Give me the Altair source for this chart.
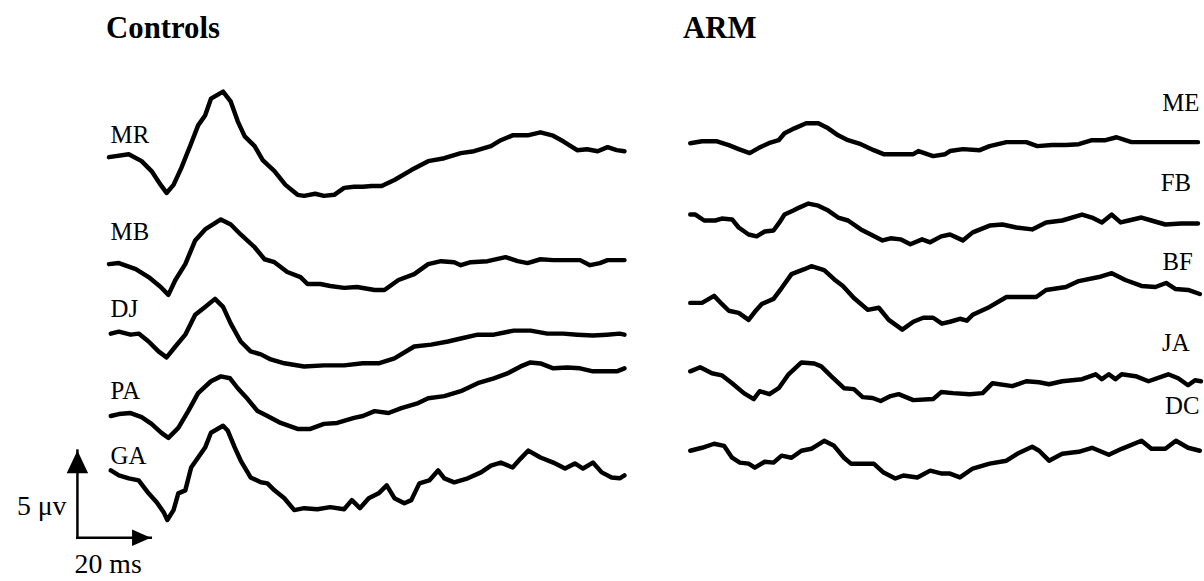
import altair as alt
import pandas as pd

# Evoked responses, (time in ms, amplitude in µV relative to the trace's first sample)

# ---- Controls ----
MR = [(0.0, 0.00), (5.4, 0.17), (8.9, -0.23), (11.6, -0.80), (14.1, -1.59), (15.7, -2.05),
      (17.6, -1.59), (19.7, -0.63), (22.2, 0.68), (24.3, 1.82), (26.2, 2.39), (27.8, 3.35),
      (31.1, 3.75), (33.2, 3.18), (35.1, 2.05), (37.0, 1.19), (39.7, 0.63), (41.9, -0.17),
      (45.1, -0.80), (48.1, -1.59), (51.4, -2.16), (53.2, -2.22), (56.2, -2.10), (58.6, -2.22),
      (61.4, -2.16), (64.1, -1.76), (66.8, -1.70), (69.2, -1.70), (71.6, -1.65), (74.3, -1.65),
      (77.8, -1.31), (82.4, -0.74), (87.0, -0.23), (91.4, -0.06), (95.9, 0.23), (99.5, 0.34),
      (104.1, 0.63), (106.8, 0.97), (110.0, 1.25), (114.1, 1.25), (117.6, 1.42), (120.8, 1.25),
      (123.8, 0.91), (127.6, 0.40), (130.3, 0.45), (133.2, 0.34), (135.9, 0.57), (138.4, 0.40),
      (140.5, 0.34)]

MB = [(0.0, 0.00), (2.7, 0.06), (7.3, -0.28), (10.8, -0.74), (14.1, -1.31), (16.2, -1.76),
      (18.1, -0.91), (20.8, 0.00), (23.5, 1.36), (26.2, 1.99), (30.5, 2.56), (33.2, 2.27),
      (35.9, 1.70), (39.7, 0.97), (42.4, 0.28), (45.1, 0.11), (48.6, -0.45), (52.2, -0.74),
      (54.1, -1.14), (57.6, -1.14), (60.3, -1.25), (64.1, -1.36), (67.6, -1.31), (72.4, -1.48),
      (75.1, -1.48), (78.9, -0.91), (83.2, -0.57), (87.0, 0.00), (90.5, 0.17), (94.1, 0.11),
      (95.9, -0.06), (98.6, 0.11), (103.2, 0.17), (108.1, 0.40), (111.4, 0.17), (114.1, 0.06),
      (117.6, 0.28), (121.1, 0.23), (124.9, 0.23), (128.4, 0.23), (131.1, -0.06), (133.8, 0.06),
      (135.9, 0.23), (140.5, 0.23)]

DJ = [(0.5, 0.00), (2.7, 0.11), (5.9, -0.06), (8.1, 0.00), (10.8, -0.45), (13.5, -1.02),
      (15.7, -1.36), (18.1, -0.74), (20.8, -0.06), (23.5, 1.08), (26.2, 1.53), (28.9, 1.99),
      (31.1, 1.53), (33.2, 0.57), (35.9, -0.45), (38.6, -1.02), (41.4, -1.19), (44.1, -1.48),
      (47.8, -1.70), (53.2, -1.88), (58.6, -1.82), (64.1, -1.82), (69.2, -1.70), (73.5, -1.70),
      (77.8, -1.42), (83.2, -0.74), (87.8, -0.63), (92.4, -0.45), (95.9, -0.28), (100.5, -0.06),
      (104.9, -0.06), (110.3, 0.17), (114.9, 0.17), (119.5, 0.00), (123.8, 0.00), (127.6, -0.06),
      (131.9, -0.11), (135.7, -0.06), (139.2, 0.00), (140.5, -0.06)]

PA = [(0.5, 0.00), (2.7, 0.11), (5.9, 0.17), (8.9, -0.06), (11.6, -0.45), (14.3, -0.97),
      (16.2, -1.25), (18.9, -0.68), (21.6, 0.28), (24.3, 1.31), (27.8, 1.99), (30.5, 2.27),
      (33.0, 2.16), (35.1, 1.59), (37.8, 0.97), (40.5, 0.28), (43.2, 0.00), (46.8, -0.40),
      (51.4, -0.74), (54.9, -0.74), (58.6, -0.45), (62.2, -0.40), (66.8, -0.11), (69.2, 0.00),
      (72.4, 0.28), (76.2, 0.17), (79.7, 0.45), (84.3, 0.74), (87.0, 1.02), (91.4, 1.14),
      (95.9, 1.42), (100.5, 1.88), (104.9, 2.16), (108.6, 2.44), (112.2, 2.84), (114.9, 3.07),
      (117.6, 3.01), (121.1, 2.73), (124.9, 2.78), (128.4, 2.73), (131.9, 2.56), (135.7, 2.56),
      (138.4, 2.56), (140.5, 2.73)]

GA = [(0.5, 0.00), (2.7, -0.28), (5.4, -0.45), (8.1, -0.57), (10.8, -1.31), (13.0, -1.82),
      (14.9, -2.39), (15.9, -2.84), (17.6, -2.27), (18.9, -1.31), (20.8, -1.14), (22.4, 0.17),
      (24.3, 0.74), (26.2, 1.31), (27.8, 2.16), (31.1, 2.56), (32.4, 2.27), (34.3, 1.31),
      (35.9, 0.57), (38.6, -0.40), (41.4, -0.68), (43.2, -0.74), (45.1, -1.14), (47.8, -1.59),
      (50.5, -2.27), (53.2, -2.16), (56.8, -2.22), (60.3, -2.10), (64.1, -2.22), (66.2, -1.70),
      (68.4, -2.16), (70.8, -1.59), (73.5, -1.31), (75.7, -0.85), (77.8, -1.59), (80.5, -1.88),
      (82.4, -1.70), (84.6, -0.74), (87.3, -0.57), (89.7, 0.00), (91.4, -0.45), (94.1, -0.68),
      (97.8, -0.45), (101.4, -0.11), (104.1, 0.28), (106.8, 0.45), (110.0, 0.17), (112.2, 0.68),
      (114.3, 1.14), (117.6, 0.74), (121.1, 0.45), (124.3, 0.11), (127.0, 0.40), (129.2, 0.11),
      (131.9, 0.45), (134.3, -0.11), (137.0, -0.40), (139.2, -0.45), (140.5, -0.28)]

# ---- ARM ----
ME = [(0.0, 0.00), (3.2, 0.11), (7.3, 0.11), (10.5, -0.11), (13.2, -0.34), (16.2, -0.57),
      (18.6, -0.28), (21.4, 0.00), (24.1, 0.17), (25.7, 0.57), (28.4, 0.85), (31.6, 1.14),
      (34.9, 1.14), (37.6, 0.85), (40.3, 0.45), (43.0, 0.17), (46.5, -0.06), (50.0, -0.40),
      (52.7, -0.63), (56.5, -0.63), (60.8, -0.63), (62.2, -0.45), (64.6, -0.63), (66.2, -0.74),
      (69.5, -0.63), (70.8, -0.45), (74.3, -0.34), (78.9, -0.40), (81.6, -0.17), (86.2, 0.06),
      (91.6, 0.06), (94.6, -0.17), (98.6, -0.11), (102.4, -0.11), (105.9, -0.06), (109.5, 0.17),
      (113.2, 0.17), (116.2, 0.34), (118.6, 0.17), (120.3, 0.06), (125.7, 0.06), (131.1, 0.06),
      (138.4, 0.06)]

FB = [(0.0, 0.00), (1.4, 0.00), (3.8, -0.34), (6.8, -0.34), (8.6, -0.23), (11.4, -0.28),
      (13.2, -0.74), (15.9, -1.14), (18.1, -1.25), (20.3, -0.97), (22.7, -0.91), (24.3, -0.45),
      (25.7, 0.00), (28.1, 0.23), (29.7, 0.40), (32.2, 0.63), (34.9, 0.51), (37.6, 0.23),
      (40.3, -0.17), (43.0, -0.34), (46.5, -0.85), (49.2, -1.14), (52.4, -1.48), (54.6, -1.36),
      (57.3, -1.42), (60.0, -1.70), (63.2, -1.42), (65.4, -1.59), (68.4, -1.25), (70.8, -1.14),
      (74.3, -1.48), (77.0, -1.02), (81.6, -0.63), (85.1, -0.57), (88.9, -0.74), (93.2, -0.85),
      (97.0, -0.45), (101.4, -0.34), (106.8, 0.00), (109.5, -0.17), (112.2, -0.45), (114.9, 0.00),
      (117.3, -0.45), (119.5, -0.34), (123.0, -0.17), (125.7, -0.34), (129.5, -0.57),
      (133.8, -0.51), (138.4, -0.51)]

BF = [(0.0, 0.00), (3.2, 0.00), (6.5, 0.40), (8.6, -0.06), (10.5, -0.45), (13.2, -0.57),
      (15.9, -0.97), (17.6, -0.51), (19.5, -0.06), (22.7, 0.23), (24.9, 0.85), (27.6, 1.65),
      (31.1, 1.93), (33.0, 2.10), (36.5, 1.88), (39.2, 1.36), (41.6, 0.97), (44.6, 0.28),
      (48.4, -0.40), (51.4, -0.28), (54.1, -0.97), (57.8, -1.53), (60.8, -1.08), (63.5, -0.85),
      (66.2, -0.85), (68.6, -1.19), (70.8, -1.08), (73.5, -0.91), (75.4, -1.02), (77.0, -0.68),
      (81.6, -0.23), (86.2, 0.34), (90.5, 0.34), (94.3, 0.34), (97.0, 0.74), (102.4, 0.91),
      (105.9, 1.25), (111.4, 1.48), (114.9, 1.70), (118.6, 1.31), (123.0, 0.97), (126.8, 0.91),
      (129.7, 1.14), (132.2, 0.80), (135.7, 0.74), (138.9, 0.51)]

JA = [(0.0, 0.00), (2.7, 0.23), (5.9, -0.11), (8.6, -0.23), (11.4, -0.68), (14.6, -1.25),
      (17.3, -1.59), (18.9, -1.14), (21.6, -1.31), (24.1, -0.97), (26.8, -0.17), (30.3, 0.51),
      (33.8, 0.45), (35.7, 0.28), (38.4, -0.28), (41.9, -0.97), (44.6, -1.02), (47.0, -1.48),
      (49.7, -1.53), (51.9, -1.70), (54.6, -1.42), (56.8, -1.31), (60.8, -1.65), (66.2, -1.59),
      (68.4, -1.19), (71.6, -1.25), (76.2, -1.31), (79.7, -1.25), (82.4, -0.68), (87.8, -0.85),
      (91.6, -0.57), (95.1, -0.63), (97.8, -0.74), (101.4, -0.57), (106.8, -0.45), (110.5, -0.17),
      (112.2, -0.45), (114.1, -0.17), (115.9, -0.45), (117.6, -0.17), (121.4, -0.28),
      (124.9, -0.57), (130.3, -0.17), (133.0, -0.40), (135.7, -0.80), (137.6, -0.51),
      (139.2, -0.57)]

DC = [(0.0, 0.00), (3.2, 0.17), (6.5, 0.40), (9.2, 0.28), (11.4, -0.40), (13.5, -0.68),
      (15.9, -0.74), (17.6, -0.97), (20.3, -0.63), (22.7, -0.68), (24.9, -0.28), (27.6, -0.40),
      (30.3, 0.00), (33.0, 0.11), (36.5, 0.57), (39.2, 0.28), (41.9, -0.40), (43.8, -0.74),
      (50.0, -0.74), (52.7, -1.25), (55.9, -1.59), (58.1, -1.42), (61.9, -1.53), (65.4, -1.14),
      (68.6, -1.31), (70.8, -1.31), (73.5, -1.53), (77.0, -1.02), (81.6, -0.74), (86.2, -0.57),
      (89.7, -0.11), (93.2, 0.23), (95.1, 0.00), (97.8, -0.57), (101.4, -0.17), (105.9, -0.06),
      (109.5, 0.17), (114.1, -0.23), (117.6, 0.11), (123.0, 0.57), (125.7, 0.11), (129.5, 0.11),
      (132.4, 0.57), (135.7, 0.17), (138.9, 0.00)]

CONTROLS = {"MR": MR, "MB": MB, "DJ": DJ, "PA": PA, "GA": GA}
ARM = {"ME": ME, "FB": FB, "BF": BF, "JA": JA, "DC": DC}

# vertical stacking of the traces (µV)
STACK = {"MR": 24.26, "MB": 18.13, "DJ": 14.15, "PA": 9.43, "GA": 6.31,
         "ME": 25.06, "FB": 20.97, "BF": 15.91, "JA": 11.99, "DC": 7.44}

# subject initials: height above trace start (µV) and time of the label anchor (ms)
LABEL_LIFT = {"MR": 0.80, "MB": 1.36, "DJ": 0.96, "PA": 0.97, "GA": 0.39,
              "ME": 1.82, "FB": 1.36, "BF": 1.87, "JA": 1.14, "DC": 2.11}
LABEL_T = {"MR": 0.45, "MB": 0.45, "DJ": 0.45, "PA": 0.45, "GA": 0.45,
           "ME": 138.8, "FB": 136.5, "BF": 137.0, "JA": 136.1, "DC": 138.8}

# calibration bar: corner position and lengths
BAR_T, BAR_V = -8.6, 2.45
BAR_MS, BAR_UV = 20, 5

SERIF = "Liberation Serif"
Y_SCALE = alt.Scale(domain=[0, 30], nice=False, zero=False)
X_LEFT = alt.Scale(domain=[-29.7, 146.0], nice=False, zero=False)
X_RIGHT = alt.Scale(domain=[0, 139.5], nice=False, zero=False)


def traces_frame(group):
    rows = []
    for name, pts in group.items():
        for i, (t, v) in enumerate(pts):
            rows.append({"trace": name, "i": i, "t": t, "v": v + STACK[name]})
    return pd.DataFrame(rows)


def labels_frame(group):
    return pd.DataFrame([{"trace": n, "t": LABEL_T[n], "v": STACK[n] + LABEL_LIFT[n]}
                         for n in group])


def panel(group, xscale, align, title, title_dx, width):
    lines = alt.Chart(traces_frame(group)).mark_line(
        color="black", strokeWidth=4.5, strokeJoin="round", strokeCap="round"
    ).encode(
        x=alt.X("t:Q", scale=xscale, axis=None),
        y=alt.Y("v:Q", scale=Y_SCALE, axis=None),
        detail="trace:N",
        order="i:Q",
    )
    names = alt.Chart(labels_frame(group)).mark_text(
        font=SERIF, fontSize=25, color="black", align=align, baseline="alphabetic"
    ).encode(
        x=alt.X("t:Q", scale=xscale, axis=None),
        y=alt.Y("v:Q", scale=Y_SCALE, axis=None),
        text="trace:N",
    )
    return lines, names, alt.TitleParams(
        title, anchor="start", dx=title_dx, offset=-12, baseline="alphabetic",
        font=SERIF, fontSize=31, fontWeight="bold", color="black"
    ), width


# calibration bar drawn in the Controls panel's units
bar = pd.DataFrame({"t": [BAR_T], "v": [BAR_V],
                    "t2": [BAR_T + BAR_MS], "v2": [BAR_V + BAR_UV],
                    "tm": [BAR_T + BAR_MS / 2],
                    "amp": [f"{BAR_UV}\u00a0μv"], "dur": [f"{BAR_MS} ms"]})
bx = alt.X("t:Q", scale=X_LEFT, axis=None)
by = alt.Y("v:Q", scale=Y_SCALE, axis=None)
bar_v = alt.Chart(bar).mark_rule(color="black", strokeWidth=2.5, strokeCap="square").encode(
    x=bx, y=by, y2="v2:Q")
bar_h = alt.Chart(bar).mark_rule(color="black", strokeWidth=2.5, strokeCap="square").encode(
    x=bx, x2="t2:Q", y=by)
head_up = alt.Chart(bar).mark_point(
    shape="M0,0L-0.47,1L0.47,1Z", size=2116, filled=True, color="black", opacity=1
).encode(x=bx, y=alt.Y("v2:Q", scale=Y_SCALE, axis=None))
head_right = alt.Chart(bar).mark_point(
    shape="M0,0L-0.82,-0.36L-0.82,0.36Z", size=2116, filled=True, color="black", opacity=1
).encode(x=alt.X("t2:Q", scale=X_LEFT, axis=None), y=by)
amp_text = alt.Chart(bar).mark_text(
    font=SERIF, fontSize=28, color="black", align="right", baseline="alphabetic", dx=-11, dy=-23
).encode(x=bx, y=by, text="amp:N")
dur_text = alt.Chart(bar).mark_text(
    font=SERIF, fontSize=28, color="black", align="center", baseline="alphabetic", dx=-6, dy=35
).encode(x=alt.X("tm:Q", scale=X_LEFT, axis=None), y=by, text="dur:N")

l_lines, l_names, l_title, l_w = panel(CONTROLS, X_LEFT, "left", "Controls", 107, 650)
r_lines, r_names, r_title, r_w = panel(ARM, X_RIGHT, "right", "ARM", -5, 516)

left = alt.layer(l_lines, l_names, bar_v, bar_h, head_up, head_right, amp_text, dur_text).properties(
    width=l_w, height=528, title=l_title)
right = alt.layer(r_lines, r_names).properties(width=r_w, height=528, title=r_title)

chart = alt.hconcat(left, right, spacing=38).properties(
    padding={"left": 0, "top": 11, "right": 0, "bottom": 0}, background="white"
).configure_view(stroke=None)

chart.save("out.html", embed_options={"renderer": "svg", "actions": False})
